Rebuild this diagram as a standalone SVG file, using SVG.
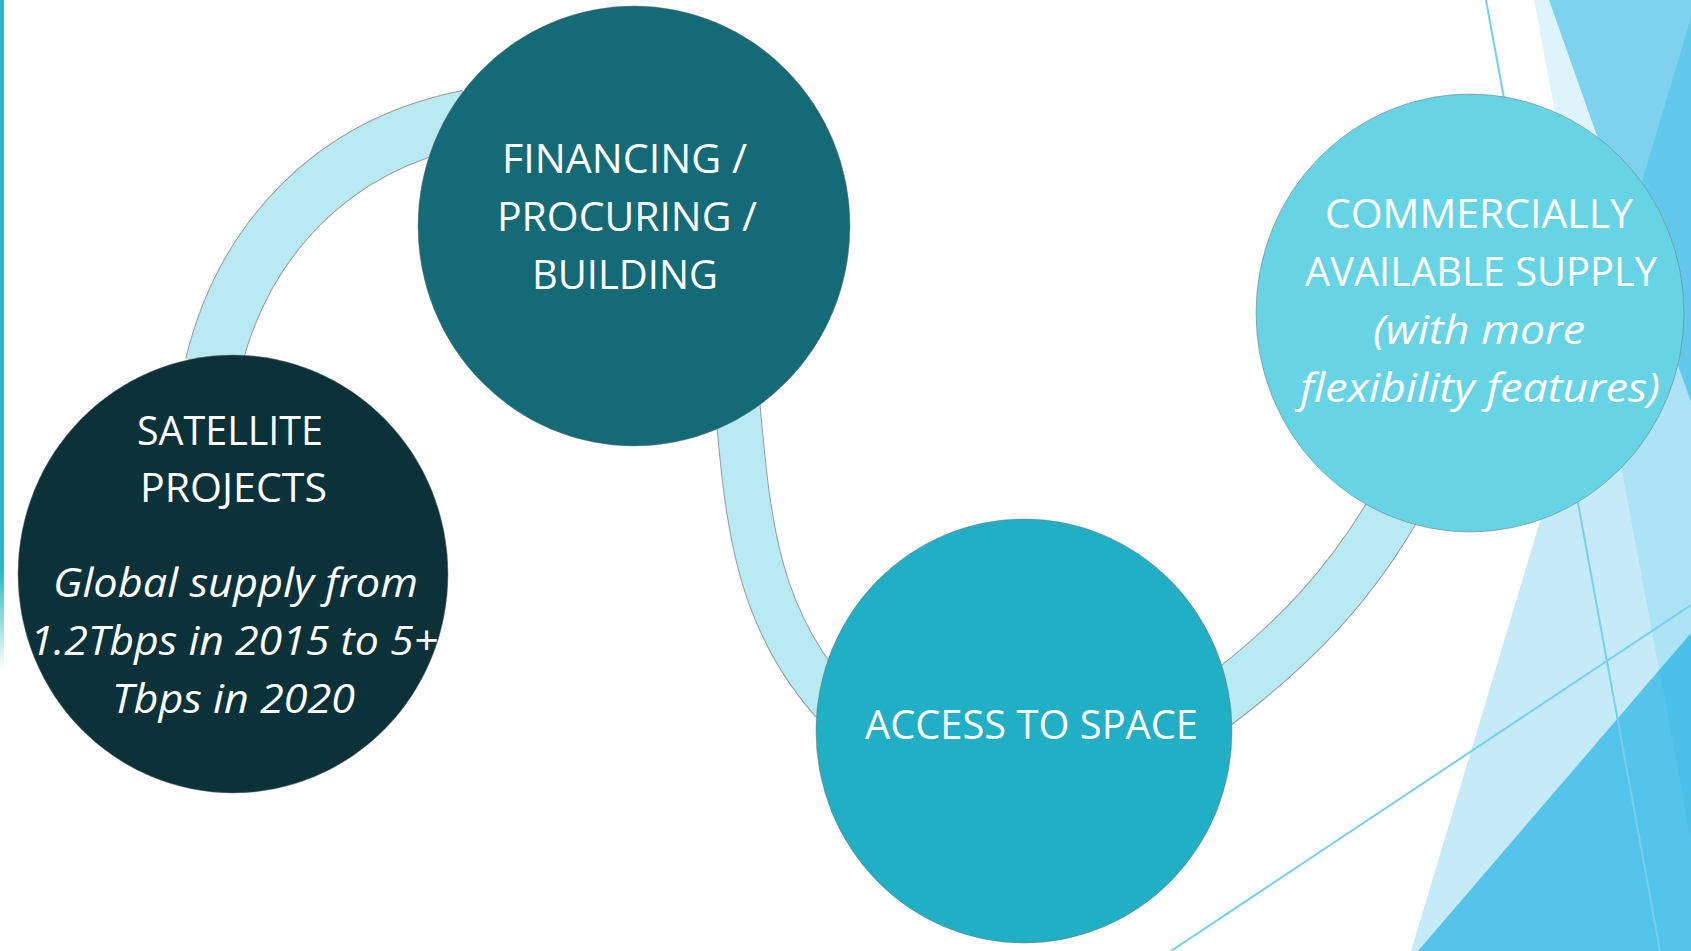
<svg xmlns="http://www.w3.org/2000/svg" width="1691" height="951" viewBox="0 0 1691 951">
  <defs>
    <style>
      .bg { fill: #17afe3; }
      .thin { stroke: #77cfee; stroke-width: 2; fill: none; }
      .band-edge { fill: none; stroke: #9a9a9a; stroke-linecap: butt; }
      .band { fill: none; stroke: #b8eaf3; stroke-linecap: butt; }
      .node { stroke: #6f6f6f; stroke-width: 0.8; stroke-opacity: 0.6; }
      .t { font-family: "Open Sans", "Noto Sans", "Liberation Sans", sans-serif; font-size: 40px; fill: #ffffff; text-anchor: middle; }
      .i { font-style: italic; }
    </style>
    <linearGradient id="tealbar" x1="0" y1="0" x2="0" y2="1">
      <stop offset="0" stop-color="#2ab7be"/>
      <stop offset="0.85" stop-color="#2ab7be"/>
      <stop offset="1" stop-color="#2ab7be" stop-opacity="0"/>
    </linearGradient>
  </defs>

  <rect width="1691" height="951" fill="#ffffff"/>

  <g id="background">
    <rect x="0" y="0" width="4" height="670" fill="url(#tealbar)"/>
    <polygon class="bg" points="1534,0 1691,0 1691,840" fill-opacity="0.14"/>
    <polygon class="bg" points="1549,0 1691,0 1691,402" fill-opacity="0.49"/>
    <polygon class="bg" points="1691,18 1411,951 1691,951" fill-opacity="0.25"/>
    <polygon class="bg" points="1418,951 1691,633 1691,951" fill-opacity="0.65"/>
    <line class="thin" x1="1486" y1="0" x2="1660" y2="951"/>
    <line class="thin" x1="1171" y1="951" x2="1691" y2="605"/>
  </g>

  <g id="connectors">
    <path class="band-edge" stroke-width="57" d="M213,365 C243,242 330,145 468,118"/>
    <path class="band" stroke-width="55" d="M213,365 C243,242 330,145 468,118"/>
    <path class="band-edge" stroke-width="46" d="M737,400 C748,520 755,620 840,710"/>
    <path class="band" stroke-width="44" d="M737,400 C748,520 755,620 840,710"/>
    <path class="band-edge" stroke-width="54" d="M1200,715 C1290,650 1360,580 1415,470"/>
    <path class="band" stroke-width="52" d="M1200,715 C1290,650 1360,580 1415,470"/>
  </g>

  <g id="node-financing">
    <ellipse class="node" cx="634" cy="226" rx="216" ry="220" fill="#146a76"/>
    <text class="t" x="624.5" y="173" textLength="245" lengthAdjust="spacingAndGlyphs">FINANCING /</text>
    <text class="t" x="627" y="231" textLength="260" lengthAdjust="spacingAndGlyphs">PROCURING /</text>
    <text class="t" x="625" y="289" textLength="186" lengthAdjust="spacingAndGlyphs">BUILDING</text>
  </g>

  <g id="node-satellite">
    <ellipse class="node" cx="233" cy="574" rx="215" ry="219" fill="#0b3139"/>
    <text class="t" x="230" y="445" textLength="186" lengthAdjust="spacingAndGlyphs">SATELLITE</text>
    <text class="t" x="233.5" y="502" textLength="187" lengthAdjust="spacingAndGlyphs">PROJECTS</text>
    <text class="t i" x="235.5" y="597" textLength="365" lengthAdjust="spacingAndGlyphs">Global supply from</text>
    <text class="t i" x="234" y="655" textLength="408" lengthAdjust="spacingAndGlyphs">1.2Tbps in 2015 to 5+</text>
    <text class="t i" x="233.5" y="713" textLength="243" lengthAdjust="spacingAndGlyphs">Tbps in 2020</text>
  </g>

  <g id="node-access">
    <ellipse class="node" cx="1024" cy="731" rx="208" ry="212" fill="#21afc6"/>
    <text class="t" x="1031.5" y="739" textLength="333" lengthAdjust="spacingAndGlyphs">ACCESS TO SPACE</text>
  </g>

  <g id="node-commercial">
    <ellipse class="node" cx="1470" cy="313" rx="214" ry="219" fill="#67d4e6"/>
    <text class="t" x="1479" y="228" textLength="308" lengthAdjust="spacingAndGlyphs">COMMERCIALLY</text>
    <text class="t" x="1481" y="286" textLength="352" lengthAdjust="spacingAndGlyphs">AVAILABLE SUPPLY</text>
    <text class="t i" x="1479" y="344" textLength="212" lengthAdjust="spacingAndGlyphs">(with more</text>
    <text class="t i" x="1480" y="402" textLength="360" lengthAdjust="spacingAndGlyphs">flexibility features)</text>
  </g>
</svg>
